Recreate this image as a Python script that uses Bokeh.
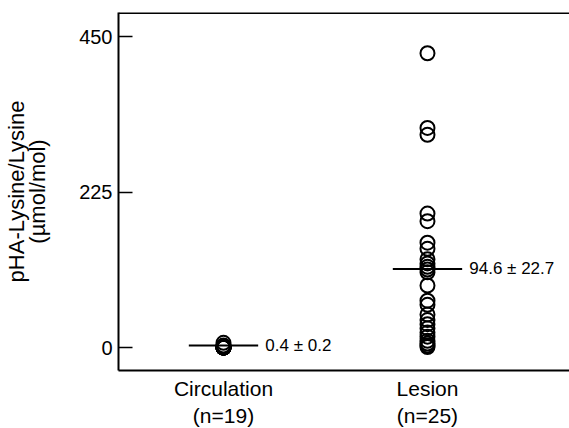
from bokeh.plotting import figure
from bokeh.models import Range1d, Span, FixedTicker, ColumnDataSource
from bokeh.embed import file_html
from bokeh.resources import INLINE
from bokeh.core.properties import value

groups = ["Circulation\n(n=19)", "Lesion\n(n=25)"]
group_x = [1, 2]
circulation = [7, 3, 2, 1.5, 1, 1, 0.8, 0.6, 0.5, 0.5, 0.4, 0.3, 0.3, 0.2, 0.2, 0.1, 0.1, 0.0, 0.0]
lesion = [426, 318, 308, 194, 183, 152, 143, 128, 122, 117, 113, 109, 90, 68, 62,
          48, 40, 34, 28, 22, 16, 10, 6, 3, 1]
mean_line = [3, 114]
mean_labels = ["0.4 \u00b1 0.2", "94.6 \u00b1 22.7"]
yticks = [0, 225, 450]

FONT = "Liberation Sans"

p = figure(frame_width=453, frame_height=358, min_border_left=116, min_border_right=0,
           min_border_top=12, min_border_bottom=50,
           output_backend="svg", toolbar_location=None,
           x_range=Range1d(0.4853, 2.706), y_range=Range1d(-33, 485))

p.outline_line_color = None
p.xgrid.visible = False
p.ygrid.visible = False
p.background_fill_color = "white"
p.border_fill_color = "white"

xs = [group_x[0]] * len(circulation) + [group_x[1]] * len(lesion)
ys = circulation + lesion
src = ColumnDataSource(dict(x=xs, y=ys))
p.scatter("x", "y", source=src, size=14, fill_color=None, line_color="black", line_width=2)

half = 0.17
p.segment(x0=[g - half for g in group_x], x1=[g + half for g in group_x],
          y0=mean_line, y1=mean_line, line_color="black", line_width=2)

p.text(x=[g + 0.205 for g in group_x], y=mean_line, text=mean_labels,
       text_font=value(FONT), text_font_size="17px", text_baseline="middle",
       text_align="left", text_color="black")

top = Span(location=484.2, dimension="width", line_color="black", line_width=2)
p.add_layout(top)

# y axis
p.yaxis.ticker = FixedTicker(ticks=yticks)
p.yaxis.axis_line_width = 2
p.yaxis.axis_line_color = "black"
p.yaxis.major_tick_out = 0
p.yaxis.major_tick_in = 14
p.yaxis.major_tick_line_width = 1.5
p.yaxis.minor_tick_line_color = None
p.yaxis.major_label_text_font = FONT
p.yaxis.major_label_text_font_size = "20px"
p.yaxis.major_label_text_color = "black"
p.yaxis.major_label_standoff = 6
p.yaxis.axis_label = "pHA-Lysine/Lysine\n(\u00b5mol/mol)"
p.yaxis.axis_label_text_font = FONT
p.yaxis.axis_label_text_font_style = "normal"
p.yaxis.axis_label_text_font_size = "22px"
p.yaxis.axis_label_text_color = "black"
p.yaxis.axis_label_text_line_height = 0.85
p.yaxis.axis_label_standoff = 26

# x axis
p.xaxis.ticker = FixedTicker(ticks=group_x)
p.xaxis.major_label_overrides = {g: lab for g, lab in zip(group_x, groups)}
p.xaxis.axis_line_width = 2
p.xaxis.axis_line_color = "black"
p.xaxis.major_tick_line_color = None
p.xaxis.minor_tick_line_color = None
p.xaxis.major_label_text_font = FONT
p.xaxis.major_label_text_font_size = "21px"
p.xaxis.major_label_text_color = "black"
p.xaxis.major_label_standoff = 0

open("out.html", "w").write(file_html(p, INLINE))
